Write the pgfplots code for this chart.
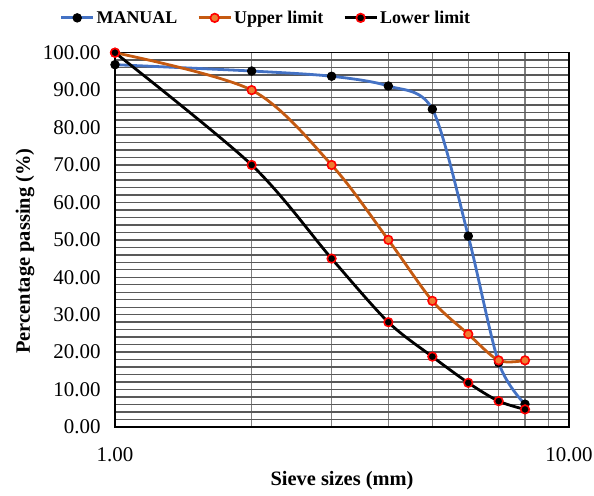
\documentclass[border=0pt]{standalone}
\usepackage{fontspec}
\setmainfont{Liberation Serif}
\usepackage{pgfplots}
\pgfplotsset{compat=1.18}
\definecolor{mblue}{HTML}{4472C4}
\definecolor{morange}{HTML}{C55A11}
\definecolor{mfill}{HTML}{ED7D31}
\begin{document}
\begin{tikzpicture}[x=1bp,y=1bp]
\useasboundingbox (0,0) rectangle (594,496);
\begin{axis}[
  at={(115bp,69bp)}, anchor=south west,
  scale only axis, width=454bp, height=374.3bp,
  xmode=log, xmin=1, xmax=10, ymin=0, ymax=100,
  log basis x=10,
  xtick={1,2,3,4,5,6,7,8,9,10},
  xticklabels={1.00,,,,,,,,,10.00},
  ytick={0,10,...,100},
  minor y tick num=4,
  xmajorgrids, ymajorgrids, yminorgrids,
  x grid style={draw=black!50, line width=1.4bp},
  major grid style={line width=1.4bp},
  y grid style={draw=black!65},
  minor grid style={draw=black!15, line width=1.4bp},
  major tick length=0pt, minor tick length=0pt,
  axis line style={black, line width=1.4bp},
  clip=false,
  /pgf/number format/assume math mode=true,
  yticklabel style={/pgf/number format/.cd, fixed, fixed zerofill, precision=2, /tikz/.cd, font=\fontsize{21}{25}\selectfont, xshift=-11bp},
  xticklabel style={font=\fontsize{21}{25}\selectfont, yshift=-17bp},
  xlabel={\textbf{Sieve sizes (mm)}},
  ylabel={\textbf{Percentage passing (\%)}},
  label style={font=\fontsize{20.5}{24}\selectfont},
  xlabel style={at={(axis description cs:0.5,-0.142)}, anchor=center},
  ylabel style={at={(axis description cs:-0.198,0.47)}, anchor=center},
  legend columns=3,
  legend style={at={(axis description cs:0.3326,1.093)}, anchor=center, draw=none, fill=none,
    font=\bfseries\fontsize{18}{22}\selectfont,
    /tikz/every even column/.append style={column sep=18bp}},
  legend image code/.code={\draw[mark repeat=2,mark phase=2,#1] plot coordinates {(0bp,0bp)(16bp,0bp)(32bp,0bp)};},
]
\addplot[mblue, line width=2.8bp, smooth, tension=0.5, mark=*, mark size=4.3bp,
  mark options={fill=black, draw=black, line width=0.8bp}]
  coordinates {(1,96.8)(2,95.1)(3,93.7)(4,91.1)(5,84.9)(6,51.0)(7,17.2)(8,6.1)};
\addlegendentry{MANUAL}
\addplot[morange, line width=2.8bp, smooth, tension=0.5, mark=*, mark size=4.3bp,
  mark options={fill=mfill, draw=red, line width=1.6bp}]
  coordinates {(1,100)(2,90)(3,70)(4,50)(5,33.7)(6,24.8)(7,17.8)(8,17.8)};
\addlegendentry{Upper limit}
\addplot[black, line width=2.8bp, smooth, tension=0.5, mark=*, mark size=4.3bp,
  mark options={fill=black, draw=red, line width=1.6bp}]
  coordinates {(1,100)(2,70)(3,45)(4,28)(5,18.8)(6,11.8)(7,6.9)(8,4.7)};
\addlegendentry{Lower limit}
\end{axis}
\end{tikzpicture}
\end{document}
